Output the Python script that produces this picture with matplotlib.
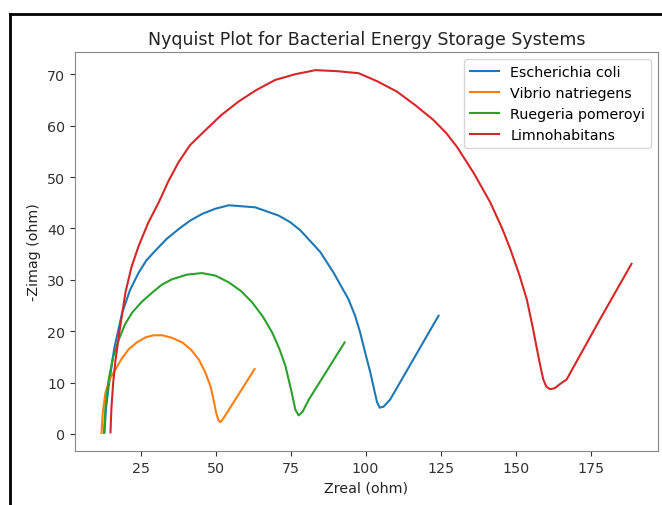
import matplotlib
matplotlib.use('Agg')
import matplotlib.pyplot as plt
from matplotlib.lines import Line2D

# Werte (Zreal, -Zimag in ohm)
ecoli_x = [13.0, 13.5, 14.4, 16.2, 18.9, 21.5, 24.4, 27.0, 30.0, 33.8, 37.8, 41.5, 45.5, 49.8, 54.4,
           63.2, 71.0, 74.9, 78.3, 84.9, 89.3, 94.3, 96.5, 98.2, 100.0, 101.6, 102.9, 103.8, 104.7,
           106.0, 108.2, 124.3]
ecoli_y = [0.3, 5.0, 9.3, 16.5, 23.6, 28.0, 31.4, 33.8, 35.7, 38.0, 39.9, 41.5, 42.8, 43.8, 44.5,
           44.1, 42.5, 41.2, 39.6, 35.4, 31.4, 26.2, 23.0, 19.7, 15.5, 11.9, 8.5, 6.2, 5.1,
           5.3, 6.7, 23.0]

vibrio_x = [12.0, 12.4, 13.3, 14.7, 16.7, 18.8, 21.1, 23.8, 26.7, 29.4, 32.2, 35.5, 38.9, 41.8,
            44.4, 46.5, 48.3, 49.4, 50.2, 51.0, 51.6, 52.6, 63.0]
vibrio_y = [0.2, 4.0, 8.0, 10.6, 12.6, 14.7, 16.5, 17.8, 18.8, 19.2, 19.2, 18.7, 17.8, 16.4,
            14.5, 12.1, 9.3, 6.5, 4.1, 2.6, 2.3, 3.0, 12.6]

ruegeria_x = [12.8, 13.3, 14.4, 15.8, 17.8, 19.8, 22.2, 25.4, 28.9, 32.0, 35.5, 40.5, 45.5, 50.0,
              54.4, 58.5, 62.2, 65.8, 68.9, 71.3, 73.3, 75.2, 76.6, 77.7, 79.0, 81.0, 93.0]
ruegeria_y = [0.2, 5.0, 10.6, 14.8, 18.4, 21.3, 23.6, 25.7, 27.5, 29.0, 30.1, 31.0, 31.3, 30.8,
              29.5, 27.8, 25.6, 22.8, 19.7, 16.5, 13.2, 8.5, 4.7, 3.6, 4.3, 6.6, 17.8]

limno_x = [15.0, 15.3, 15.9, 16.7, 18.0, 20.0, 22.0, 24.4, 27.5, 31.1, 34.3, 37.7, 41.5, 46.6,
           51.8, 57.7, 63.5, 69.9, 76.5, 83.3, 90.5, 97.7, 104.0, 110.5, 116.5, 122.6, 126.8, 130.4,
           136.0, 141.5, 145.5, 148.2, 151.2, 153.7, 155.6, 157.1, 158.3, 159.2, 160.2, 161.5,
           163.0, 165.0, 167.0, 178.1, 188.6]
limno_y = [0.3, 5.0, 10.0, 14.5, 20.0, 27.6, 32.5, 36.6, 41.0, 45.1, 49.2, 52.9, 56.2, 59.1,
           62.0, 64.7, 66.9, 68.9, 70.0, 70.8, 70.6, 70.2, 68.6, 66.6, 64.0, 61.1, 58.6, 55.9,
           50.8, 45.1, 40.0, 36.0, 31.0, 26.2, 21.0, 16.5, 13.0, 10.6, 9.2, 8.7,
           8.9, 9.8, 10.6, 22.3, 33.1]

fig = plt.figure(figsize=(6.62, 5.06), dpi=100)
ax = fig.add_axes([75/662, 54/506, 583/662, 399/506])

ax.plot(ecoli_x, ecoli_y, label='Escherichia coli', linewidth=1.5)
ax.plot(vibrio_x, vibrio_y, label='Vibrio natriegens', linewidth=1.5)
ax.plot(ruegeria_x, ruegeria_y, label='Ruegeria pomeroyi', linewidth=1.5)
ax.plot(limno_x, limno_y, label='Limnohabitans', linewidth=1.5)

ax.set_title('Nyquist Plot for Bacterial Energy Storage Systems', fontsize=12.5, color='#222222')
ax.set_xlabel('Zreal (ohm)', fontsize=10.3, color='#222222')
ax.set_ylabel('-Zimag (ohm)', fontsize=10.3, color='#222222')
ax.set_xticks([25, 50, 75, 100, 125, 150, 175])
ax.set_yticks([0, 10, 20, 30, 40, 50, 60, 70])
ax.tick_params(labelsize=10.3, colors='#333333')
for s in ax.spines.values():
    s.set_color('#888888')
ax.legend(loc='upper right', fontsize=10.3)

# schwarzer Rahmen vom Screenshot
fig.add_artist(Line2D([9.5/662, 9.5/662], [0, 1 - 14.5/506], color='black', linewidth=2, transform=fig.transFigure))
fig.add_artist(Line2D([9.5/662, 1], [1 - 14.5/506, 1 - 14.5/506], color='black', linewidth=2, transform=fig.transFigure))

fig.savefig('out.png', dpi=100)
